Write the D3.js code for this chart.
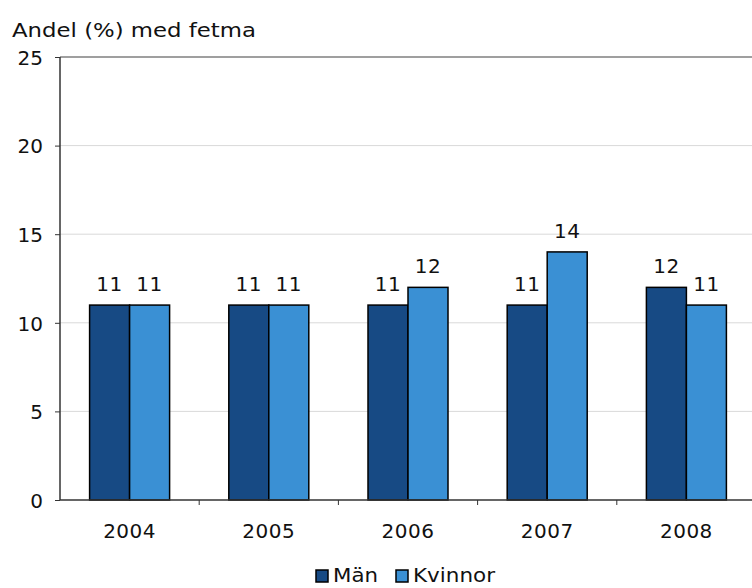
<!DOCTYPE html>
<html>
<head>
<meta charset="utf-8">
<script src="https://cdn.jsdelivr.net/npm/d3@7"></script>
<style>
  body { margin: 0; background: #fff; }
  svg text { font-family: "DejaVu Sans", Verdana, sans-serif; fill: #111; }
</style>
</head>
<body>
<div class="container"></div>
<script>
(function(){

var years = ["2004", "2005", "2006", "2007", "2008"];
var seriesNames = ["Män", "Kvinnor"];
var man = [11, 11, 11, 11, 12];
var kvinnor = [11, 11, 12, 14, 11];
var yTicks = [0, 5, 10, 15, 20, 25];
var colors = ["#174a84", "#3a90d4"];

var width = 752,
    height = 588,
    left = 60,
    top = 57,
    bottom = 500,
    right = 756;

var svg = d3.select(".container")
  .append("svg")
  .attr("width", width)
  .attr("height", height);

var x = d3.scaleBand()
  .domain(years)
  .range([left, right]);

var xInner = d3.scaleBand()
  .domain(seriesNames)
  .range([0, 80]);

var y = d3.scaleLinear()
  .domain([0, 25])
  .range([bottom, top]);

// gridlines
svg.selectAll(".grid")
  .data(yTicks.filter(function(d){ return d > 0; }))
  .enter()
  .append("line")
  .attr("x1", left)
  .attr("x2", right)
  .attr("y1", function(d){ return y(d); })
  .attr("y2", function(d){ return y(d); })
  .attr("stroke", function(d){ return d == 25 ? "#7f7f7f" : "#d9d9d9"; })
  .attr("stroke-width", function(d){ return d == 25 ? 1.5 : 1; });

// bars
var rows = years.map(function(yr, i){
  return { year: yr, values: [man[i], kvinnor[i]] };
});

var groups = svg.selectAll(".group")
  .data(rows)
  .enter()
  .append("g")
  .attr("transform", function(d){
    return "translate(" + (x(d.year) + x.bandwidth() / 2 - 40) + ",0)";
  });

groups.selectAll("rect")
  .data(function(d){ return d.values; })
  .enter()
  .append("rect")
  .attr("x", function(d, i){ return xInner(seriesNames[i]); })
  .attr("width", xInner.bandwidth())
  .attr("y", function(d){ return y(d); })
  .attr("height", function(d){ return y(0) - y(d); })
  .attr("fill", function(d, i){ return colors[i]; })
  .attr("stroke", "#000")
  .attr("stroke-width", 1.5);

groups.selectAll(".val")
  .data(function(d){ return d.values; })
  .enter()
  .append("text")
  .attr("x", function(d, i){ return xInner(seriesNames[i]) + xInner.bandwidth() / 2; })
  .attr("y", function(d){ return y(d) - 14; })
  .attr("text-anchor", "middle")
  .style("font-size", "20px")
  .style("letter-spacing", "0.5px")
  .text(function(d){ return d; });

// y axis
var yAxis = svg.append("g")
  .attr("transform", "translate(" + left + ",0)")
  .call(d3.axisLeft(y).tickValues(yTicks).tickSize(5).tickPadding(12));

yAxis.select(".domain").attr("stroke", "#333").attr("stroke-width", 1.5)
  .attr("d", "M0," + top + "V" + bottom);
yAxis.selectAll(".tick line").attr("stroke", "#333");
yAxis.selectAll(".tick text")
  .style("font-size", "20px")
  .attr("dy", "0.36em")
  .attr("font-family", null)
  .attr("fill", null);

// x axis
var xAxis = svg.append("g")
  .attr("transform", "translate(0," + bottom + ")")
  .call(d3.axisBottom(x).tickSize(0).tickPadding(24));

xAxis.select(".domain").attr("stroke", "#333").attr("stroke-width", 1.5)
  .attr("d", "M" + left + ",0H" + right);
xAxis.selectAll(".tick text")
  .style("font-size", "20px")
  .style("letter-spacing", "0.5px")
  .attr("font-family", null)
  .attr("fill", null);

svg.selectAll(".bound")
  .data(years.slice(1))
  .enter()
  .append("line")
  .attr("x1", function(d){ return x(d); })
  .attr("x2", function(d){ return x(d); })
  .attr("y1", bottom)
  .attr("y2", bottom + 5)
  .attr("stroke", "#333");

// title
svg.append("text")
  .attr("x", 12)
  .attr("y", 37)
  .style("font-size", "19px")
  .attr("textLength", 244)
  .attr("lengthAdjust", "spacingAndGlyphs")
  .text("Andel (%) med fetma");

// legend
var legend = svg.append("g");
var legendX = [316, 396];
var legendLen = [45, 82];
seriesNames.forEach(function(name, i){
  legend.append("rect")
    .attr("x", legendX[i])
    .attr("y", 570)
    .attr("width", 12)
    .attr("height", 12)
    .attr("fill", colors[i])
    .attr("stroke", "#000")
    .attr("stroke-width", 1.5);
  legend.append("text")
    .attr("x", legendX[i] + 17)
    .attr("y", 582)
    .style("font-size", "19px")
    .attr("textLength", legendLen[i])
    .attr("lengthAdjust", "spacingAndGlyphs")
    .text(name);
});

})();
</script>
</body>
</html>
